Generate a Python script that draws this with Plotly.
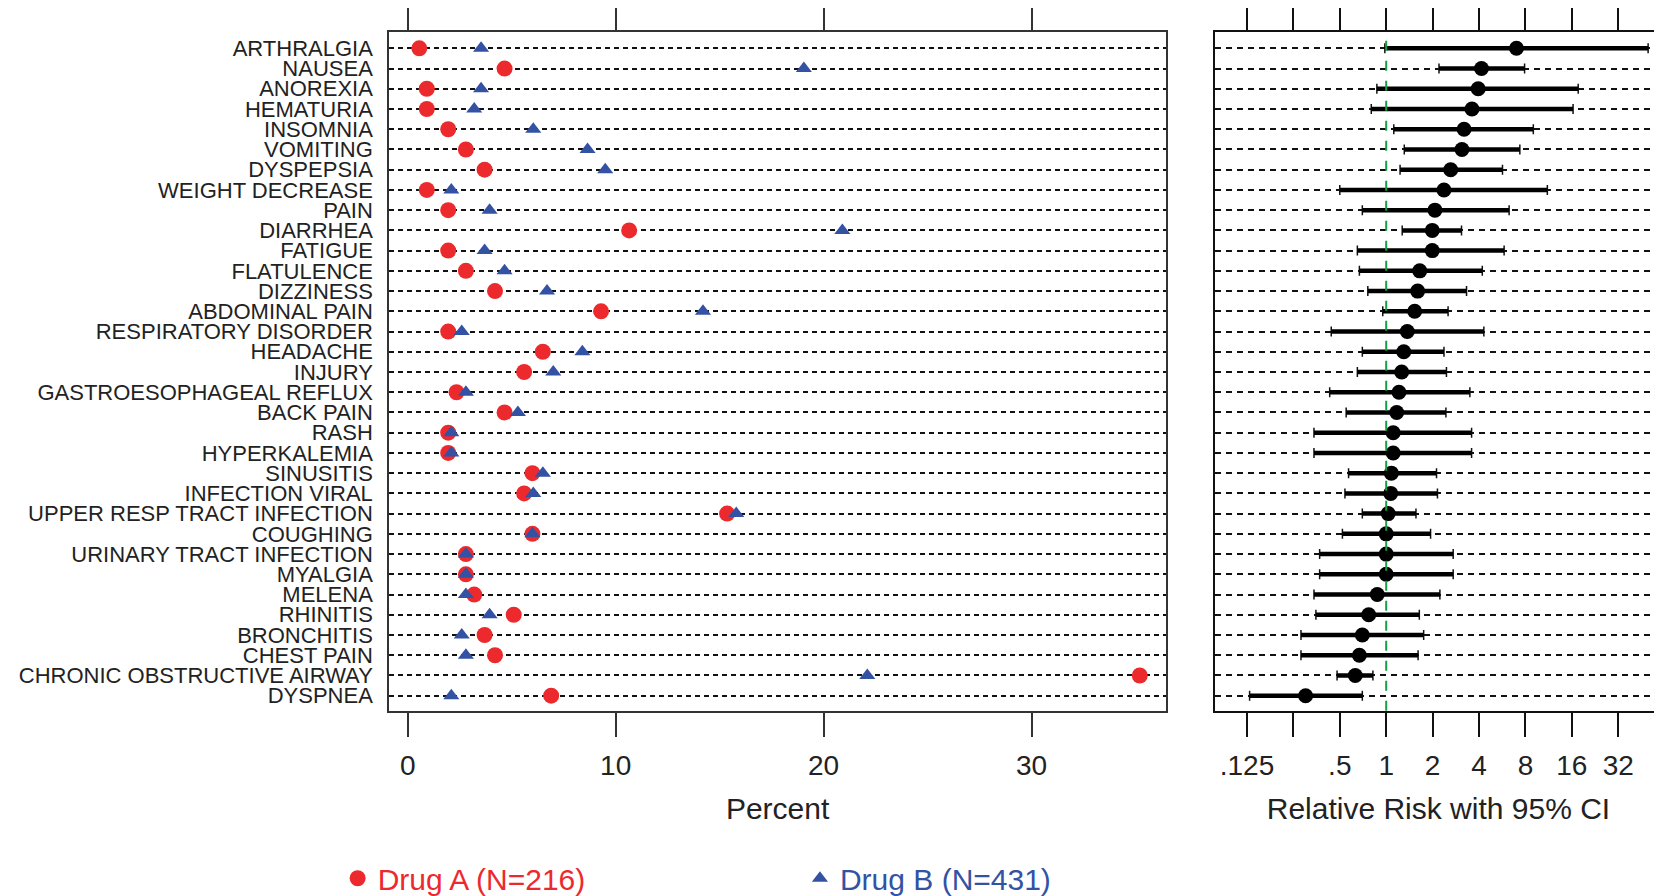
import plotly.graph_objects as go

categories = ["ARTHRALGIA", "NAUSEA", "ANOREXIA", "HEMATURIA", "INSOMNIA", "VOMITING",
              "DYSPEPSIA", "WEIGHT DECREASE", "PAIN", "DIARRHEA", "FATIGUE", "FLATULENCE",
              "DIZZINESS", "ABDOMINAL PAIN", "RESPIRATORY DISORDER", "HEADACHE", "INJURY",
              "GASTROESOPHAGEAL REFLUX", "BACK PAIN", "RASH", "HYPERKALEMIA", "SINUSITIS",
              "INFECTION VIRAL", "UPPER RESP TRACT INFECTION", "COUGHING",
              "URINARY TRACT INFECTION", "MYALGIA", "MELENA", "RHINITIS", "BRONCHITIS",
              "CHEST PAIN", "CHRONIC OBSTRUCTIVE AIRWAY", "DYSPNEA"]

drug_a_pct = [0.56, 4.66, 0.92, 0.92, 1.95, 2.8, 3.7, 0.92, 1.95, 10.65, 1.95, 2.8,
              4.2, 9.3, 1.95, 6.5, 5.6, 2.35, 4.66, 1.95, 1.95, 6.0, 5.6, 15.36, 6.0,
              2.8, 2.8, 3.2, 5.1, 3.7, 4.2, 35.2, 6.9]
drug_b_pct = [3.53, 19.05, 3.53, 3.2, 6.04, 8.65, 9.5, 2.1, 3.94, 20.9, 3.7, 4.66,
              6.7, 14.2, 2.6, 8.4, 7.0, 2.8, 5.3, 2.1, 2.1, 6.5, 6.04, 15.8, 6.0,
              2.8, 2.8, 2.8, 3.94, 2.6, 2.8, 22.1, 2.1]

rel_risk = [7.0, 4.15, 3.95, 3.6, 3.2, 3.1, 2.62, 2.37, 2.07, 1.99, 1.99, 1.65,
            1.6, 1.53, 1.37, 1.3, 1.26, 1.21, 1.17, 1.11, 1.11, 1.08, 1.07, 1.03, 1.0,
            1.0, 1.0, 0.875, 0.77, 0.70, 0.67, 0.63, 0.30]
rr_lower = [0.98, 2.2, 0.87, 0.8, 1.12, 1.31, 1.23, 0.50, 0.70, 1.27, 0.65, 0.67,
            0.76, 0.95, 0.44, 0.70, 0.65, 0.43, 0.55, 0.34, 0.34, 0.57, 0.54, 0.70, 0.52,
            0.37, 0.37, 0.34, 0.35, 0.28, 0.28, 0.48, 0.13]
rr_upper = [50.0, 7.9, 17.6, 16.3, 9.0, 7.36, 5.68, 11.1, 6.27, 3.08, 5.82, 4.2,
            3.32, 2.52, 4.3, 2.37, 2.46, 3.49, 2.44, 3.58, 3.58, 2.12, 2.15, 1.56, 1.94,
            2.72, 2.72, 2.23, 1.64, 1.75, 1.61, 0.82, 0.70]

pct_ticks = [0, 10, 20, 30]
rr_ticks = [0.125, 0.25, 0.5, 1, 2, 4, 8, 16, 32]
rr_ticktext = [".125", "", ".5", "1", "2", "4", "8", "16", "32"]

RED = "#EC2A2E"
BLUE = "#3452A4"
FONT = "Liberation Sans"
TXT = "#222222"

err_plus = [h - r for h, r in zip(rr_upper, rel_risk)]
err_minus = [r - l for r, l in zip(rel_risk, rr_lower)]

fig = go.Figure()
fig.add_trace(go.Scatter(
    x=drug_a_pct, y=categories, mode="markers", name="Drug A (N=216)",
    marker=dict(symbol="circle", size=16, color=RED), legend="legend",
    xaxis="x", yaxis="y"))
fig.add_trace(go.Scatter(
    x=drug_b_pct, y=categories, mode="markers", name="Drug B (N=431)",
    marker=dict(symbol="triangle-up", size=14, color=BLUE), legend="legend2",
    xaxis="x", yaxis="y"))
# thin end caps of the confidence intervals
fig.add_trace(go.Scatter(
    x=rel_risk, y=categories, mode="markers", showlegend=False, hoverinfo="skip",
    marker=dict(size=1, color="rgba(0,0,0,0)"),
    error_x=dict(type="data", symmetric=False, array=err_plus, arrayminus=err_minus,
                 color="#111", thickness=1.5, width=5),
    xaxis="x2", yaxis="y2"))
# thick interval lines and relative-risk points
fig.add_trace(go.Scatter(
    x=rel_risk, y=categories, mode="markers", showlegend=False,
    marker=dict(symbol="circle", size=15, color="black"),
    error_x=dict(type="data", symmetric=False, array=err_plus, arrayminus=err_minus,
                 color="black", thickness=4.5, width=0),
    xaxis="x2", yaxis="y2"))

# page body has an 8px margin: figure is laid out for that offset
W, H = 1654, 888
ydom = [0.2087, 0.9726]
yrange = [32.74, -0.79]

fig.update_layout(
    width=W, height=H,
    margin=dict(l=0, r=0, t=0, b=0, autoexpand=False),
    paper_bgcolor="white", plot_bgcolor="white",
    font=dict(family=FONT, size=28, color=TXT),
    xaxis=dict(domain=[0.2305, 0.7001], range=[-0.885, 36.46], tickvals=pct_ticks,
               showline=True, linecolor="#333", linewidth=2, mirror="allticks",
               ticks="outside", ticklen=24, tickwidth=2, tickcolor="#333",
               ticklabelstandoff=5,
               showgrid=False, zeroline=False, anchor="y",
               tickfont=dict(size=28, color=TXT),
               title=dict(text="Percent", font=dict(size=30, color=TXT), standoff=18)),
    yaxis=dict(domain=ydom, type="category", categoryarray=categories, range=yrange,
               tickmode="array", tickvals=categories, ticktext=categories,
               showline=True, linecolor="#333", linewidth=2, mirror=True,
               ticks="", ticklabelstandoff=10, anchor="x",
               showgrid=True, gridcolor="#111", gridwidth=1.5, griddash="5px,4px",
               tickfont=dict(size=22, color=TXT)),
    xaxis2=dict(domain=[0.7297, 1.0], type="log", range=[-1.111, 1.789],
                tickvals=rr_ticks, ticktext=rr_ticktext,
                showline=True, linecolor="#111", linewidth=2, mirror="allticks",
                ticks="outside", ticklen=24, tickwidth=2, tickcolor="#111",
                ticklabelstandoff=5,
                showgrid=False, zeroline=False, anchor="y2",
                tickfont=dict(size=28, color=TXT),
                title=dict(text="Relative Risk with 95% CI", font=dict(size=30, color=TXT),
                           standoff=18)),
    yaxis2=dict(domain=ydom, type="category", categoryarray=categories, range=yrange,
                showline=True, linecolor="#111", linewidth=2, mirror=False,
                ticks="", showticklabels=False, anchor="x2",
                showgrid=True, gridcolor="#111", gridwidth=1.5, griddash="6px,5px"),
    legend=dict(x=0.1993, y=0.020, xanchor="left", yanchor="middle",
                orientation="h", bgcolor="rgba(0,0,0,0)",
                font=dict(size=30, color=RED, family=FONT)),
    legend2=dict(x=0.4788, y=0.020, xanchor="left", yanchor="middle",
                 orientation="h", bgcolor="rgba(0,0,0,0)",
                 font=dict(size=30, color=BLUE, family=FONT)),
    shapes=[dict(type="line", xref="x2", yref="y2 domain", x0=1, x1=1, y0=0, y1=1,
                 line=dict(color="#13A044", width=2, dash="10px,10px"), layer="above")],
)

fig.write_html("out.html")
